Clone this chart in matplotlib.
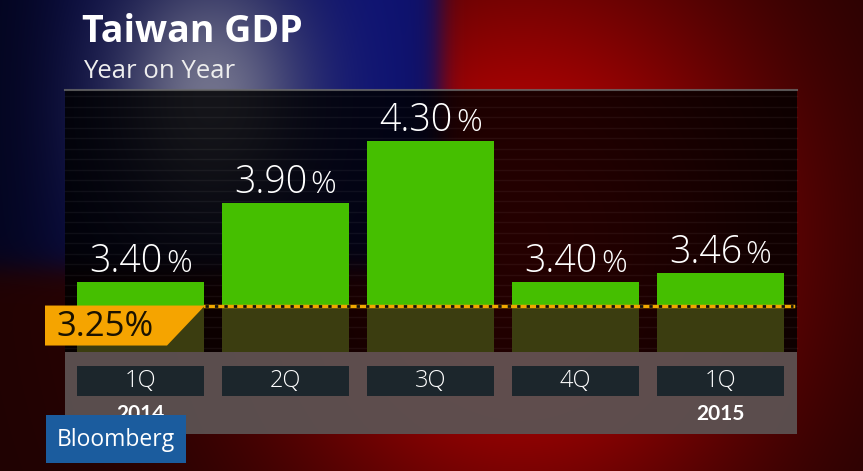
import numpy as np
import matplotlib
matplotlib.use("Agg")
import matplotlib.pyplot as plt
from matplotlib.patches import Rectangle, Polygon

# ---- data ----
quarters = ["1Q", "2Q", "3Q", "4Q", "1Q"]
years = ["2014", "", "", "", "2015"]
gdp_yoy = [3.40, 3.90, 4.30, 3.40, 3.46]
value_labels = ["3.40", "3.90", "4.30", "3.40", "3.46"]
forecast = 3.25
forecast_label = "3.25%"
title = "Taiwan GDP"
subtitle = "Year on Year"

FONT = ["Lato", "DejaVu Sans"]
FONT2 = ["Open Sans", "DejaVu Sans"]
plt.rcParams["font.family"] = FONT

W, H = 863, 471
fig = plt.figure(figsize=(W / 100, H / 100), dpi=100)

# ---- blurred flag background ----
yy, xx = np.mgrid[0:H, 0:W].astype(float)
sig = lambda z: 1 / (1 + np.exp(-z))
rint = 0.66 * np.exp(-((xx - 520) / 260) ** 2 - ((yy - 240) / 300) ** 2) + 0.12
red = np.stack([rint, 0.01 * np.ones_like(rint), 0.01 * np.ones_like(rint)], -1)
bint = 0.26 + 0.18 * np.exp(-((xx - 380) / 110) ** 2)
bint = bint * (0.45 + 0.55 * sig((xx - 50) / 25))
blue = np.stack([0.12 * bint, 0.16 * bint, bint], -1)
mb = sig((440 - xx) / 7) * sig((268 - yy) / 8)
img = mb[..., None] * blue + (1 - mb[..., None]) * red
blob = 0.75 * np.exp(-(((xx - 210) / 95) ** 2 + ((yy - 100) / 130) ** 2)) * mb
img = img * (1 - blob[..., None]) + blob[..., None] * np.array([0.58, 0.58, 0.64])
img = np.clip(img, 0, 1)

bg = fig.add_axes([0, 0, 1, 1], zorder=0)
bg.imshow(img, extent=(0, W, H, 0), aspect="auto", interpolation="bilinear")
bg.set_xlim(0, W)
bg.set_ylim(H, 0)
bg.axis("off")

# chart panel
bg.add_patch(Rectangle((65, 90), 732, 262, facecolor="black", alpha=0.82, lw=0))
for yl in np.arange(96, 352, 10.5):
    bg.plot([65, 797], [yl, yl], color="white", alpha=0.05, lw=1)
bg.plot([65, 797], [90, 90], color="#6a6a6a", lw=1.5, alpha=0.8)
# label band
bg.add_patch(Rectangle((65, 352), 732, 82, facecolor="#5c5252", alpha=0.95, lw=0))

# ---- bars ----
x = np.arange(len(gdp_yoy))
px_left, px_right, px_c0, px_step = 65, 797, 140.5, 145.0
xlim = ((px_left - px_c0) / px_step, (px_right - px_c0) / px_step)
bw = 127 / px_step
y0, y1 = 2.954, 4.623

ax = fig.add_axes([65 / W, (H - 352) / H, 732 / W, 262 / H], zorder=1)
ax.set_xlim(*xlim)
ax.set_ylim(y0, y1)
ax.patch.set_alpha(0)
ax.axis("off")
vals = np.array(gdp_yoy)
ax.bar(x, vals - forecast, bottom=forecast, width=bw, color="#45bf00", lw=0)
ax.bar(x, forecast - y0, bottom=y0, width=bw, color="#3b3d10", lw=0)
ax.axhline(forecast, xmin=(205 - 65) / 732, xmax=0.995, color="#f0a800", lw=2.5, zorder=5)
ax.axhline(forecast, xmin=(205 - 65) / 732, xmax=0.995, color="#111111", lw=2.0,
           dashes=(1.2, 2.2), zorder=6)

nums, pcts = [], []
for xi, v, lab in zip(x, vals, value_labels):
    tn = ax.annotate(lab, (xi, v), xytext=(0, 10), textcoords="offset pixels",
                     ha="left", va="baseline", color="white", fontsize=27,
                     family=FONT2, fontweight="light")
    tp = ax.annotate("%", (xi, v), xytext=(0, 10), textcoords="offset pixels",
                     ha="left", va="baseline", color="white", fontsize=23,
                     family=FONT2, fontweight="light")
    nums.append(tn)
    pcts.append(tp)
fig.canvas.draw()
r = fig.canvas.get_renderer()
for tn, tp in zip(nums, pcts):
    wn = tn.get_window_extent(r).width
    wp = tp.get_window_extent(r).width
    gap = 3
    tot = wn + gap + wp
    tn.set_position((-tot / 2, 10))
    tp.set_position((-tot / 2 + wn + gap, 10))

# ---- category labels ----
ax2 = fig.add_axes([65 / W, (H - 434) / H, 732 / W, 82 / H], zorder=1)
ax2.set_xlim(*xlim)
ax2.set_ylim(0, 82)
ax2.patch.set_alpha(0)
ax2.axis("off")
ax2.bar(x, 30, bottom=38, width=bw, color="#1c262c", lw=0)
for xi, q, yr in zip(x, quarters, years):
    ax2.text(xi, 53, q, ha="center", va="center", color="white", fontsize=17,
             family=FONT2, fontweight="light")
    if yr:
        ax2.text(xi, 20, yr, ha="center", va="center", color="white",
                 fontsize=15, fontweight="bold")

# ---- overlay: tag, title, logo ----
ov = fig.add_axes([0, 0, 1, 1], zorder=3)
ov.set_xlim(0, W)
ov.set_ylim(H, 0)
ov.patch.set_alpha(0)
ov.axis("off")
yl = H - ax.transData.transform((0, forecast))[1]
ov.add_patch(Polygon([(45, yl), (205, yl), (167, yl + 40), (45, yl + 40)],
                     closed=True, facecolor="#f5a400", lw=0))
ov.text(56, yl + 21, forecast_label, ha="left", va="center", color="#1a1200",
        fontsize=25, family=FONT2)

ov.text(82, 42, title, ha="left", va="baseline", color="white", fontsize=27,
        fontweight="bold", family=FONT2)
ov.text(83, 78, subtitle, ha="left", va="baseline", color="#eeeeee", fontsize=18.5,
        family=FONT2)

ov.add_patch(Rectangle((46, 415), 140, 48, facecolor="#1b5c9e", lw=0))
ov.text(116, 446, "Bloomberg", ha="center", va="baseline", color="white",
        fontsize=16.5, family=FONT2)

fig.savefig("out.png", dpi=100)
